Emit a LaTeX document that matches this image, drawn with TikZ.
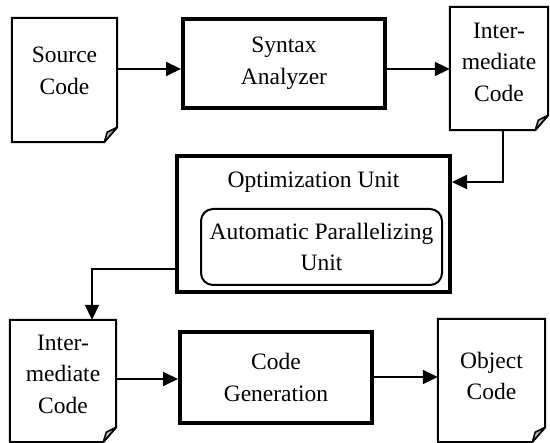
\documentclass[tikz,border=0pt]{standalone}
\usepackage{fontspec}
\setmainfont{Liberation Serif}
\usetikzlibrary{arrows.meta}
\begin{document}
\begin{tikzpicture}[x=1pt,y=-1pt,
  txt/.style={font=\fontsize{23.5}{31.5}\selectfont, align=center, inner sep=0pt},
  docbox/.style={draw=none, inner sep=0pt},
  thickbox/.style={draw, line width=4pt, inner sep=0pt, font=\fontsize{23.5}{31.5}\selectfont, align=center},
  roundbox/.style={draw, line width=2pt, rounded corners=12pt, inner sep=0pt, font=\fontsize{23.5}{31.5}\selectfont, align=center},
  conn/.style={line width=2pt, -{Triangle[length=15pt,width=14pt]}},
  plainconn/.style={line width=2pt},
  docline/.style={line width=2pt, line join=miter},
  foldfill/.style={fill=black!30, draw, line width=1.5pt, line join=round}
]
\useasboundingbox (0,0) rectangle (550,443);
% document nodes
\node[docbox, minimum width=105pt, minimum height=124pt] (src) at (64.5,80) {};
\node[docbox, minimum width=98pt, minimum height=123pt] (ic1) at (499,68.5) {};
\node[docbox, minimum width=106pt, minimum height=122pt] (ic2) at (63,381) {};
\node[docbox, minimum width=107pt, minimum height=123pt] (obj) at (491.5,380.5) {};
\foreach \n in {src,ic1,ic2,obj}{
  \draw[docline] (\n.north west) -- (\n.north east) -- ([yshift=15pt]\n.south east)
     -- ([xshift=-13pt]\n.south east) -- (\n.south west) -- cycle;
  \filldraw[foldfill] ([yshift=15pt]\n.south east) -- ([xshift=-13pt]\n.south east)
     -- ([xshift=-10pt,yshift=10pt]\n.south east) -- cycle;
}
\node[txt] (srct) at ([yshift=9pt]src.center) {Source\\Code};
\node[txt] (ic1t) at ([yshift=6.5pt]ic1.center) {Inter-\\mediate\\Code};
\node[txt] (ic2t) at ([yshift=7pt]ic2.center) {Inter-\\mediate\\Code};
\node[txt] (objt) at ([yshift=4.5pt]obj.center) {Object\\Code};
% boxes
\node[thickbox, minimum width=202pt, minimum height=89pt] (syn) at (284,63.5) {Syntax\\Analyzer};
\node[thickbox, minimum width=273pt, minimum height=136pt] (opt) at (313.5,224) {};
\node[txt] (optt) at (313.5,182) {Optimization Unit};
\node[roundbox, minimum width=241pt, minimum height=76pt] (apu) at (321.5,247) {Automatic Parallelizing\\Unit};
\node[thickbox, minimum width=192pt, minimum height=91pt] (gen) at (276,377.5) {Code\\Generation};
% connectors
\draw[conn] (src.east |- 0,69) -- (syn.west |- 0,69);
\draw[conn] (syn.east |- 0,69) -- (ic1.west |- 0,69);
\draw[conn] (ic1.south -| 503,0) -- (503,182) -- (opt.east |- 0,182);
\coordinate (optout) at (176,222);
\draw[conn] (optout) -- (176,269) -- (92,269) -- (ic2.north -| 92,0);
\draw[conn] (ic2.east |- 0,379) -- (gen.west |- 0,379);
\draw[conn] (gen.east |- 0,377) -- (obj.west |- 0,377);
\end{tikzpicture}
\end{document}
